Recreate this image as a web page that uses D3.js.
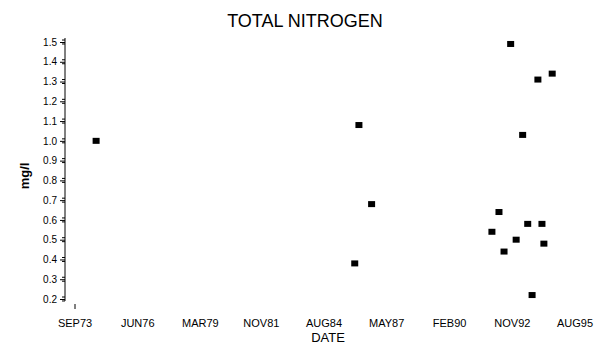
<!DOCTYPE html>
<html><head><meta charset="utf-8">
<script src="https://cdn.jsdelivr.net/npm/d3@7"></script>
<style>html,body{margin:0;padding:0;background:#fff}svg{display:block}</style>
</head><body>
<script>
const dates = ["1974-08-05","1985-12-05","1986-02-10","1986-09-01","1991-12-10","1992-04-01","1992-06-21","1992-10-05","1993-01-01","1993-04-15","1993-07-05","1993-09-13","1993-12-15","1994-02-18","1994-03-21","1994-08-01"];
const values = [1.00,0.38,1.08,0.68,0.54,0.64,0.44,1.49,0.50,1.03,0.58,0.22,1.31,0.58,0.48,1.34];
const yTicks = [0.2,0.3,0.4,0.5,0.6,0.7,0.8,0.9,1.0,1.1,1.2,1.3,1.4,1.5];
const xTickDates = ["1973-09-01","1976-06-01","1979-03-01","1981-11-01","1984-08-01","1987-05-01","1990-02-01","1992-11-01","1995-08-01"];
const xTickLabels = ["SEP73","JUN76","MAR79","NOV81","AUG84","MAY87","FEB90","NOV92","AUG95"];

const W=605,H=354;
const svg=d3.select("body").append("svg").attr("width",W).attr("height",H);
const parse=d3.utcParse("%Y-%m-%d");
const x=d3.scaleUtc().domain([parse(xTickDates[0]),parse(xTickDates[xTickDates.length-1])]).range([75,575]);
const y=d3.scaleLinear().domain([0.2,1.5]).range([299,42]);
const font="'Liberation Sans', Arial, sans-serif";

svg.append("text").attr("x",305).attr("y",27).attr("text-anchor","middle")
  .attr("font-family",font).attr("font-size",18).attr("fill","#000").text("TOTAL NITROGEN");

// y axis
const yAxis=d3.axisLeft(y).tickValues(yTicks).tickSize(5).tickFormat(d3.format(".1f"));
const gy=svg.append("g").attr("transform","translate(65,0)").call(yAxis);
gy.select(".domain").attr("d","M0,38V301").attr("stroke","#000");
gy.selectAll(".tick line").attr("stroke","#000");
gy.selectAll(".tick text").attr("font-family",font).attr("font-size",10).attr("fill","#000").attr("x",-8);
// minor ticks
const minor=[];
yTicks.forEach(t=>{[-0.01,0.01].forEach(o=>{const v=+(t+o).toFixed(2); if(v>=0.19&&v<=1.51) minor.push(v);});});
gy.selectAll(".minor").data(minor).join("line").attr("class","minor")
  .attr("x1",-3).attr("x2",0).attr("y1",d=>y(d)).attr("y2",d=>y(d)).attr("stroke","#000");

// x axis labels
const gx=svg.append("g");
gx.selectAll("text").data(xTickDates).join("text")
  .attr("x",d=>x(parse(d))).attr("y",327).attr("text-anchor","middle")
  .attr("font-family",font).attr("font-size",11).attr("fill","#000")
  .text((d,i)=>xTickLabels[i]);
gx.append("line").attr("x1",x(parse(xTickDates[0]))).attr("x2",x(parse(xTickDates[0])))
  .attr("y1",304).attr("y2",309).attr("stroke","#000");

svg.append("text").attr("x",328).attr("y",342).attr("text-anchor","middle")
  .attr("font-family",font).attr("font-size",13).attr("fill","#000").text("DATE");
svg.append("text").attr("transform","translate(29,176) rotate(-90)").attr("text-anchor","middle")
  .attr("font-family",font).attr("font-size",13).attr("font-weight","bold").attr("fill","#000").text("mg/l");

// points
svg.append("g").selectAll("rect").data(dates.map((d,i)=>({d:parse(d),v:values[i]}))).join("rect")
  .attr("x",p=>x(p.d)-3.5).attr("y",p=>y(p.v)-3).attr("width",7).attr("height",6).attr("fill","#000");
</script>
</body></html>
